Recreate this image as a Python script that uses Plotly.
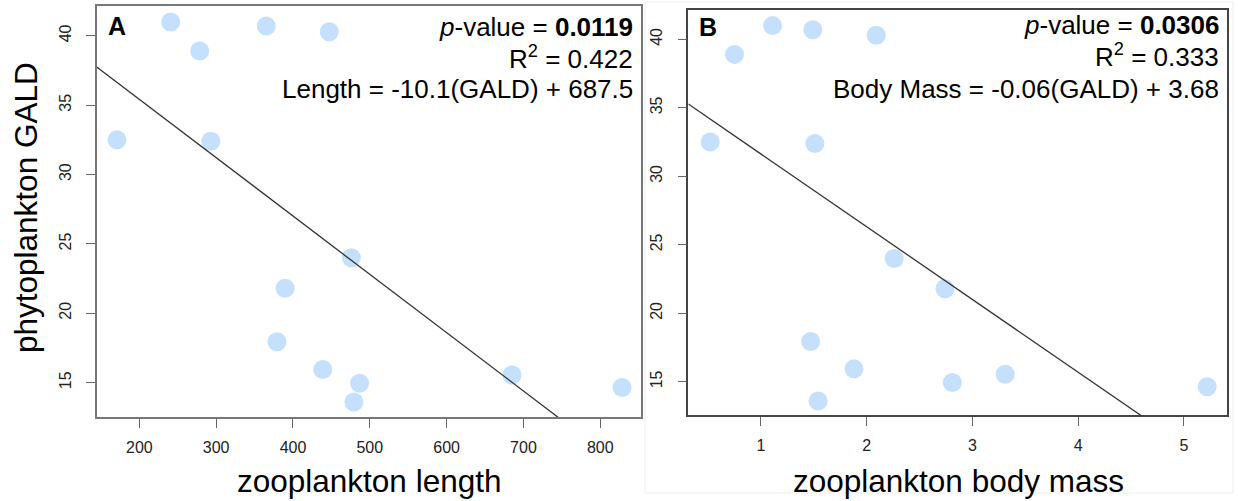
import plotly.graph_objects as go

# ---- data ----
gald = [41.0, 38.9, 40.7, 40.3, 32.5, 32.4, 24.0, 21.8, 17.95, 15.95, 14.95, 15.55, 13.6, 14.65]
zoo_length = [240.8, 278.6, 365.2, 447.3, 170.9, 293.0, 476.0, 389.8, 379.1, 438.7, 486.7, 685.1, 479.3, 828.3]
zoo_mass = [1.11, 0.75, 1.49, 2.09, 0.52, 1.51, 2.26, 2.74, 1.47, 1.88, 2.81, 3.31, 1.54, 5.22]

fit_a = {"intercept": 43.83, "slope": -0.04205}
fit_b = {"intercept": 36.94, "slope": -5.31}

xticks_a = [200, 300, 400, 500, 600, 700, 800]
xticks_b = [1, 2, 3, 4, 5]
yticks = [15, 20, 25, 30, 35, 40]

xrange_a = [144.5, 853]
xrange_b = [0.313, 5.41]
yrange_a = [12.5, 42.15]
yrange_b = [12.56, 42.14]

W, H = 1238, 501
FONT = "Liberation Sans, Arial, sans-serif"
PT = "#c4e0fc"

def px(x):
    return x / W

def py(y):
    return 1 - y / H

fig = go.Figure()

fig.add_trace(go.Scatter(x=zoo_length, y=gald, mode="markers",
                         marker=dict(size=19, color=PT, line=dict(width=0)),
                         xaxis="x", yaxis="y", showlegend=False))
fig.add_trace(go.Scatter(x=xrange_a,
                         y=[fit_a["intercept"] + fit_a["slope"] * v for v in xrange_a],
                         mode="lines", line=dict(color="#333333", width=1.3),
                         xaxis="x", yaxis="y", showlegend=False))
fig.add_trace(go.Scatter(x=zoo_mass, y=gald, mode="markers",
                         marker=dict(size=19, color=PT, line=dict(width=0)),
                         xaxis="x2", yaxis="y2", showlegend=False))
fig.add_trace(go.Scatter(x=xrange_b,
                         y=[fit_b["intercept"] + fit_b["slope"] * v for v in xrange_b],
                         mode="lines", line=dict(color="#333333", width=1.3),
                         xaxis="x2", yaxis="y2", showlegend=False))

def axis(rng, ticks, domain, anchor, angle=0, lc="#666666", standoff=0):
    return dict(range=rng, tickvals=ticks, domain=domain, anchor=anchor,
                showline=True, mirror=True, linecolor=lc, linewidth=1.5,
                ticks="outside", ticklen=9, tickwidth=1.3, tickcolor="#666666",
                showgrid=False, zeroline=False, tickangle=angle,
                ticklabelstandoff=standoff,
                tickfont=dict(family=FONT, size=16, color="#222222"))

fig.update_layout(
    width=W, height=H,
    margin=dict(l=0, r=0, t=0, b=0),
    paper_bgcolor="white", plot_bgcolor="white",
    xaxis=axis(xrange_a, xticks_a, [px(96.7), px(641)], "y", lc="#777777", standoff=6),
    yaxis=axis(yrange_a, yticks, [py(417.3), py(6)], "x", angle=-90, lc="#777777", standoff=9),
    xaxis2=axis(xrange_b, xticks_b, [px(688.3), px(1227.3)], "y2", lc="#444444", standoff=6),
    yaxis2=axis(yrange_b, yticks, [py(415.3), py(10)], "x2", angle=-90, lc="#444444", standoff=9),
)

# faint frame of the second image
fig.add_shape(type="rect", xref="paper", yref="paper",
              x0=px(645), x1=px(1233), y0=py(493), y1=py(2),
              line=dict(color="#eeeeee", width=1), layer="below")

ann = []
def text(x, y, s, size, xanchor="center", angle=0, color="#000000"):
    ann.append(dict(x=px(x), y=py(y), xref="paper", yref="paper", text=s,
                    showarrow=False, xanchor=xanchor, yanchor="middle",
                    textangle=angle, font=dict(family=FONT, size=size, color=color)))

# panel letters
text(106, 26, "<b>A</b>", 25, xanchor="left")
text(697, 27, "<b>B</b>", 25, xanchor="left")
# stats A
text(635, 27, "<i>p</i>-value = <b>0.0119</b>", 26, xanchor="right")
text(635, 57, "R<sup>2</sup> = 0.422", 26, xanchor="right")
text(635, 89, "Length = -10.1(GALD) + 687.5", 26, xanchor="right")
# stats B
text(1221, 25, "<i>p</i>-value = <b>0.0306</b>", 26, xanchor="right")
text(1221, 55, "R<sup>2</sup> = 0.333", 26, xanchor="right")
text(1221, 89, "Body Mass = -0.06(GALD) + 3.68", 26, xanchor="right")
# axis titles
text(369, 481, "zooplankton length", 31.5)
text(958, 481, "zooplankton body mass", 31.5)
text(26, 208, "phytoplankton GALD", 31.5, angle=-90)

fig.update_layout(annotations=ann)
fig.write_html("out.html")
